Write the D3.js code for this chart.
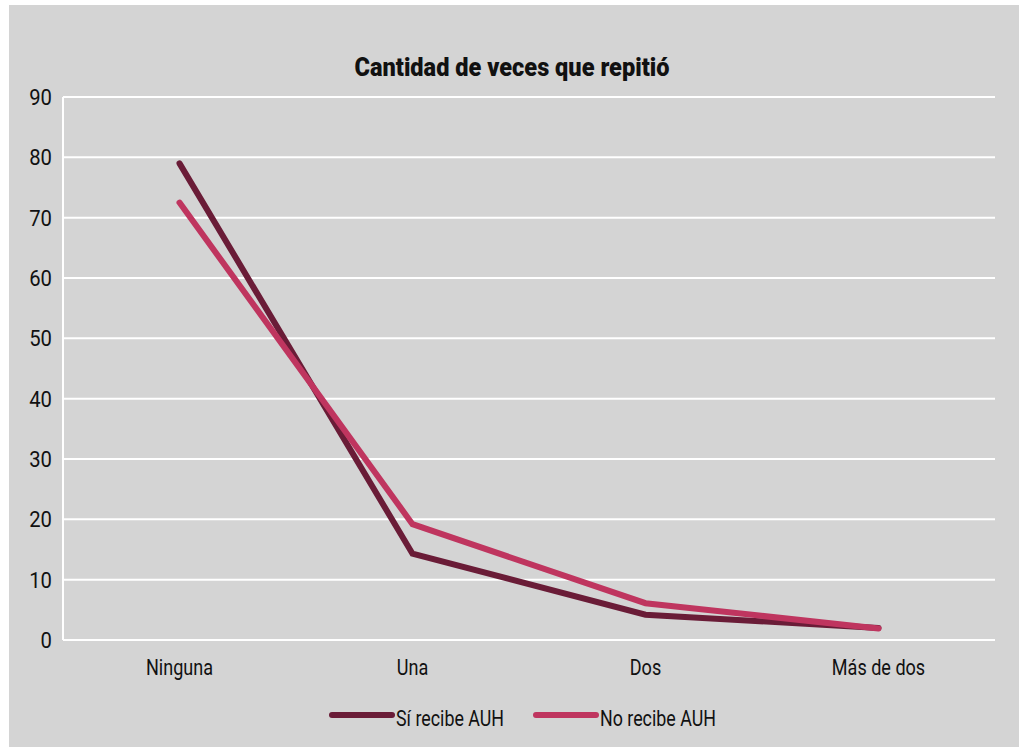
<!DOCTYPE html>
<html>
<head>
    <title>Cantidad de veces que repitió</title>
    <script src="https://d3js.org/d3.v7.min.js"></script>
    <style>
        body { margin: 0; background: #ffffff; }
        text { font-family: "Roboto", "Liberation Sans", sans-serif; fill: #111111; }
        .title { font-weight: 900; font-size: 25px; }
        .ylab { font-size: 22px; }
        .xlab { font-size: 22px; }
        .legend text { font-size: 22px; }
    </style>
</head>
<body>
    <script>
        // Data
        const categories = ["Ninguna", "Una", "Dos", "Más de dos"];
        const siRecibe = [79, 14.3, 4.2, 2];
        const noRecibe = [72.5, 19.2, 6.1, 1.9];
        const yTicks = [0, 10, 20, 30, 40, 50, 60, 70, 80, 90];

        const series = [
            { name: "Sí recibe AUH", values: siRecibe, color: "#6a1c37" },
            { name: "No recibe AUH", values: noRecibe, color: "#bf355f" }
        ];

        const W = 1019, H = 747;
        const margin = { top: 97, right: 24, bottom: 107, left: 63 };
        const width = W - margin.left - margin.right;
        const height = H - margin.top - margin.bottom;

        // squeeze text horizontally to mimic a condensed face
        function condense(sel, k) {
            sel.each(function () {
                const len = this.getComputedTextLength();
                d3.select(this)
                    .attr("textLength", len * k)
                    .attr("lengthAdjust", "spacingAndGlyphs");
            });
        }

        const svg = d3.select("body")
            .append("svg")
            .attr("width", W)
            .attr("height", H);

        // grey panel
        svg.append("rect")
            .attr("x", 9).attr("y", 5)
            .attr("width", W - 9).attr("height", H - 5)
            .attr("fill", "#d4d4d4");

        svg.append("text")
            .attr("class", "title")
            .attr("x", 512).attr("y", 76)
            .attr("text-anchor", "middle")
            .attr("textLength", 315)
            .attr("lengthAdjust", "spacingAndGlyphs")
            .text("Cantidad de veces que repitió");

        const g = svg.append("g")
            .attr("transform", `translate(${margin.left},${margin.top})`);

        const x = d3.scaleBand()
            .domain(categories)
            .range([0, width]);

        const y = d3.scaleLinear()
            .domain([0, 90])
            .range([height, 0]);

        // gridlines
        g.selectAll(".grid")
            .data(yTicks)
            .join("line")
            .attr("class", "grid")
            .attr("x1", 0).attr("x2", width)
            .attr("y1", d => y(d)).attr("y2", d => y(d))
            .attr("stroke", "#ffffff")
            .attr("stroke-width", 2);

        g.append("line")
            .attr("x1", 0).attr("x2", 0)
            .attr("y1", y(90)).attr("y2", y(0))
            .attr("stroke", "#ffffff")
            .attr("stroke-width", 2);

        // y labels
        g.selectAll(".ylab")
            .data(yTicks)
            .join("text")
            .attr("class", "ylab")
            .attr("x", -11)
            .attr("y", d => y(d))
            .attr("dy", "0.36em")
            .attr("text-anchor", "end")
            .text(d => d)
            .call(condense, 0.92);

        // x labels
        g.selectAll(".xlab")
            .data(categories)
            .join("text")
            .attr("class", "xlab")
            .attr("x", d => x(d) + x.bandwidth() / 2)
            .attr("y", height + 35)
            .attr("text-anchor", "middle")
            .text(d => d)
            .call(condense, 0.82);

        const line = d3.line()
            .x((d, i) => x(categories[i]) + x.bandwidth() / 2)
            .y(d => y(d));

        g.selectAll(".series")
            .data(series)
            .join("path")
            .attr("class", "series")
            .attr("d", d => line(d.values))
            .attr("fill", "none")
            .attr("stroke", d => d.color)
            .attr("stroke-width", 6)
            .attr("stroke-linecap", "round")
            .attr("stroke-linejoin", "miter");

        // legend
        const legendX = [332, 536];
        const legend = svg.selectAll(".legend")
            .data(series)
            .join("g")
            .attr("class", "legend")
            .attr("transform", (d, i) => `translate(${legendX[i]},715)`);

        legend.append("line")
            .attr("x1", 0).attr("x2", 60)
            .attr("y1", 0).attr("y2", 0)
            .attr("stroke", d => d.color)
            .attr("stroke-width", 6)
            .attr("stroke-linecap", "round");

        legend.append("text")
            .attr("x", 64)
            .attr("y", 11)
            .text(d => d.name)
            .call(condense, 0.81);
    </script>
</body>
</html>
